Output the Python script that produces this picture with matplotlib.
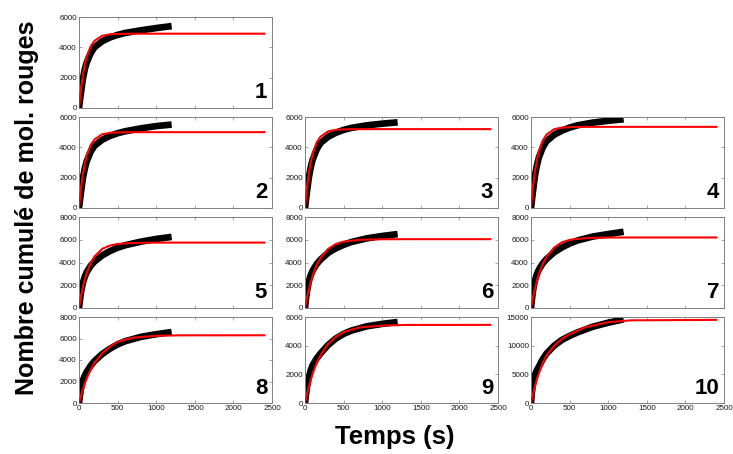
import matplotlib
matplotlib.use("Agg")
import matplotlib.pyplot as plt

plt.rcParams['font.family'] = ['Liberation Sans', 'DejaVu Sans']

# time grids (s)
t_black = [0, 10, 25, 50, 75, 100, 150, 200, 300, 400, 500, 600, 800, 1000, 1200]
t_red = [0, 10, 25, 50, 75, 100, 150, 200, 300, 400, 500, 700, 1000, 1300, 2400]

# cumulative counts, black = data, red = fit
black_1 = [0, 400, 1000, 1900, 2550, 3000, 3600, 4000, 4400, 4650, 4820, 4950, 5120, 5270, 5400]
red_1 = [0, 545, 1250, 2180, 2870, 3380, 4060, 4430, 4760, 4855, 4886, 4899, 4900, 4900, 4900]
black_2 = [0, 400, 1020, 1950, 2600, 3080, 3700, 4100, 4500, 4750, 4930, 5060, 5250, 5400, 5500]
red_2 = [0, 555, 1275, 2225, 2930, 3450, 4140, 4520, 4860, 4955, 4985, 4999, 5000, 5000, 5000]
black_3 = [0, 420, 1060, 2020, 2700, 3200, 3850, 4280, 4700, 4960, 5150, 5280, 5450, 5560, 5650]
red_3 = [0, 580, 1325, 2315, 3045, 3590, 4310, 4700, 5055, 5155, 5185, 5199, 5200, 5200, 5200]
black_4 = [0, 430, 1090, 2080, 2780, 3300, 3970, 4400, 4830, 5100, 5300, 5450, 5630, 5750, 5850]
red_4 = [0, 595, 1365, 2380, 3130, 3690, 4430, 4840, 5200, 5300, 5335, 5349, 5350, 5350, 5350]
black_5 = [0, 550, 1350, 2200, 2750, 3150, 3700, 4080, 4620, 5000, 5300, 5520, 5830, 6070, 6250]
red_5 = [0, 430, 1000, 1830, 2520, 3090, 3940, 4520, 5200, 5490, 5630, 5720, 5747, 5750, 5750]
black_6 = [0, 650, 1450, 2350, 2900, 3300, 3850, 4250, 4850, 5250, 5550, 5800, 6120, 6330, 6500]
red_6 = [0, 370, 880, 1640, 2300, 2870, 3760, 4400, 5200, 5630, 5840, 5990, 6045, 6050, 6050]
black_7 = [0, 650, 1500, 2400, 2950, 3350, 3900, 4300, 4900, 5320, 5670, 5930, 6280, 6500, 6700]
red_7 = [0, 380, 900, 1680, 2360, 2940, 3850, 4500, 5320, 5770, 5990, 6140, 6195, 6200, 6200]
black_8 = [0, 600, 1300, 2100, 2550, 2900, 3450, 3900, 4550, 5050, 5450, 5750, 6150, 6400, 6600]
red_8 = [0, 280, 670, 1280, 1820, 2300, 3100, 3730, 4630, 5250, 5700, 6080, 6250, 6295, 6300]
black_9 = [0, 500, 1100, 1800, 2300, 2650, 3100, 3450, 4050, 4500, 4820, 5050, 5350, 5520, 5650]
red_9 = [0, 250, 610, 1150, 1640, 2070, 2780, 3330, 4130, 4620, 4950, 5270, 5400, 5445, 5450]
black_10 = [0, 1700, 3300, 4900, 5700, 6300, 7600, 8600, 10000, 11000, 11700, 12300, 13300, 14000, 14600]
red_10 = [0, 620, 1500, 2840, 4050, 5110, 6900, 8300, 10000, 11200, 12000, 13200, 14100, 14420, 14500]

blacks = [black_1, black_2, black_3, black_4, black_5, black_6, black_7, black_8, black_9, black_10]
reds = [red_1, red_2, red_3, red_4, red_5, red_6, red_7, red_8, red_9, red_10]
panel_labels = ['1', '2', '3', '4', '5', '6', '7', '8', '9', '10']
y_ticks = [[0, 2000, 4000, 6000]] * 4 + [[0, 2000, 4000, 6000, 8000]] * 4 + \
          [[0, 2000, 4000, 6000], [0, 5000, 10000, 15000]]
x_ticks = [0, 500, 1000, 1500, 2000, 2500]

W, H = 733, 454
fig = plt.figure(figsize=(W / 100, H / 100), dpi=100)

col_left = [79, 305, 531]
col_w = 193
row_top = [17, 117, 217, 317]
row_h = [91, 91, 91, 86]
# (row, col) for each panel
pos = [(0, 0), (1, 0), (1, 1), (1, 2), (2, 0), (2, 1), (2, 2), (3, 0), (3, 1), (3, 2)]

for i, (r, c) in enumerate(pos):
    left = col_left[c] / W
    bottom = 1 - (row_top[r] + row_h[r]) / H
    ax = fig.add_axes([left, bottom, col_w / W, row_h[r] / H])
    ax.plot(t_black, blacks[i], color='black', lw=4.8, solid_capstyle='butt', zorder=2)
    ax.plot(t_red, reds[i], color='#ff0000', lw=1.5, zorder=3)
    ax.set_xlim(0, 2500)
    yt = y_ticks[i]
    ax.set_ylim(0, yt[-1])
    ax.set_yticks(yt)
    ax.set_xticks(x_ticks)
    ax.tick_params(direction='in', length=2.5, width=0.5, colors='#808080',
                   labelcolor='#1a1a1a', labelsize=5.8, top=True, right=True, pad=1.5)
    if r < 3:
        ax.tick_params(labelbottom=False)
    for sp in ax.spines.values():
        sp.set_color('#808080')
        sp.set_linewidth(0.7)
    ax.text(0.975, 0.05, panel_labels[i], transform=ax.transAxes, ha='right', va='bottom',
            fontsize=16, fontweight='bold', color='black')

fig.text(27 / W, 1 - 208 / H, 'Nombre cumulé de mol. rouges', rotation=90,
         ha='center', va='center', fontsize=18, fontweight='bold')
fig.text(395 / W, 1 - 437 / H, 'Temps (s)', ha='center', va='center',
         fontsize=18.5, fontweight='bold')

fig.savefig('out.png', dpi=100)
